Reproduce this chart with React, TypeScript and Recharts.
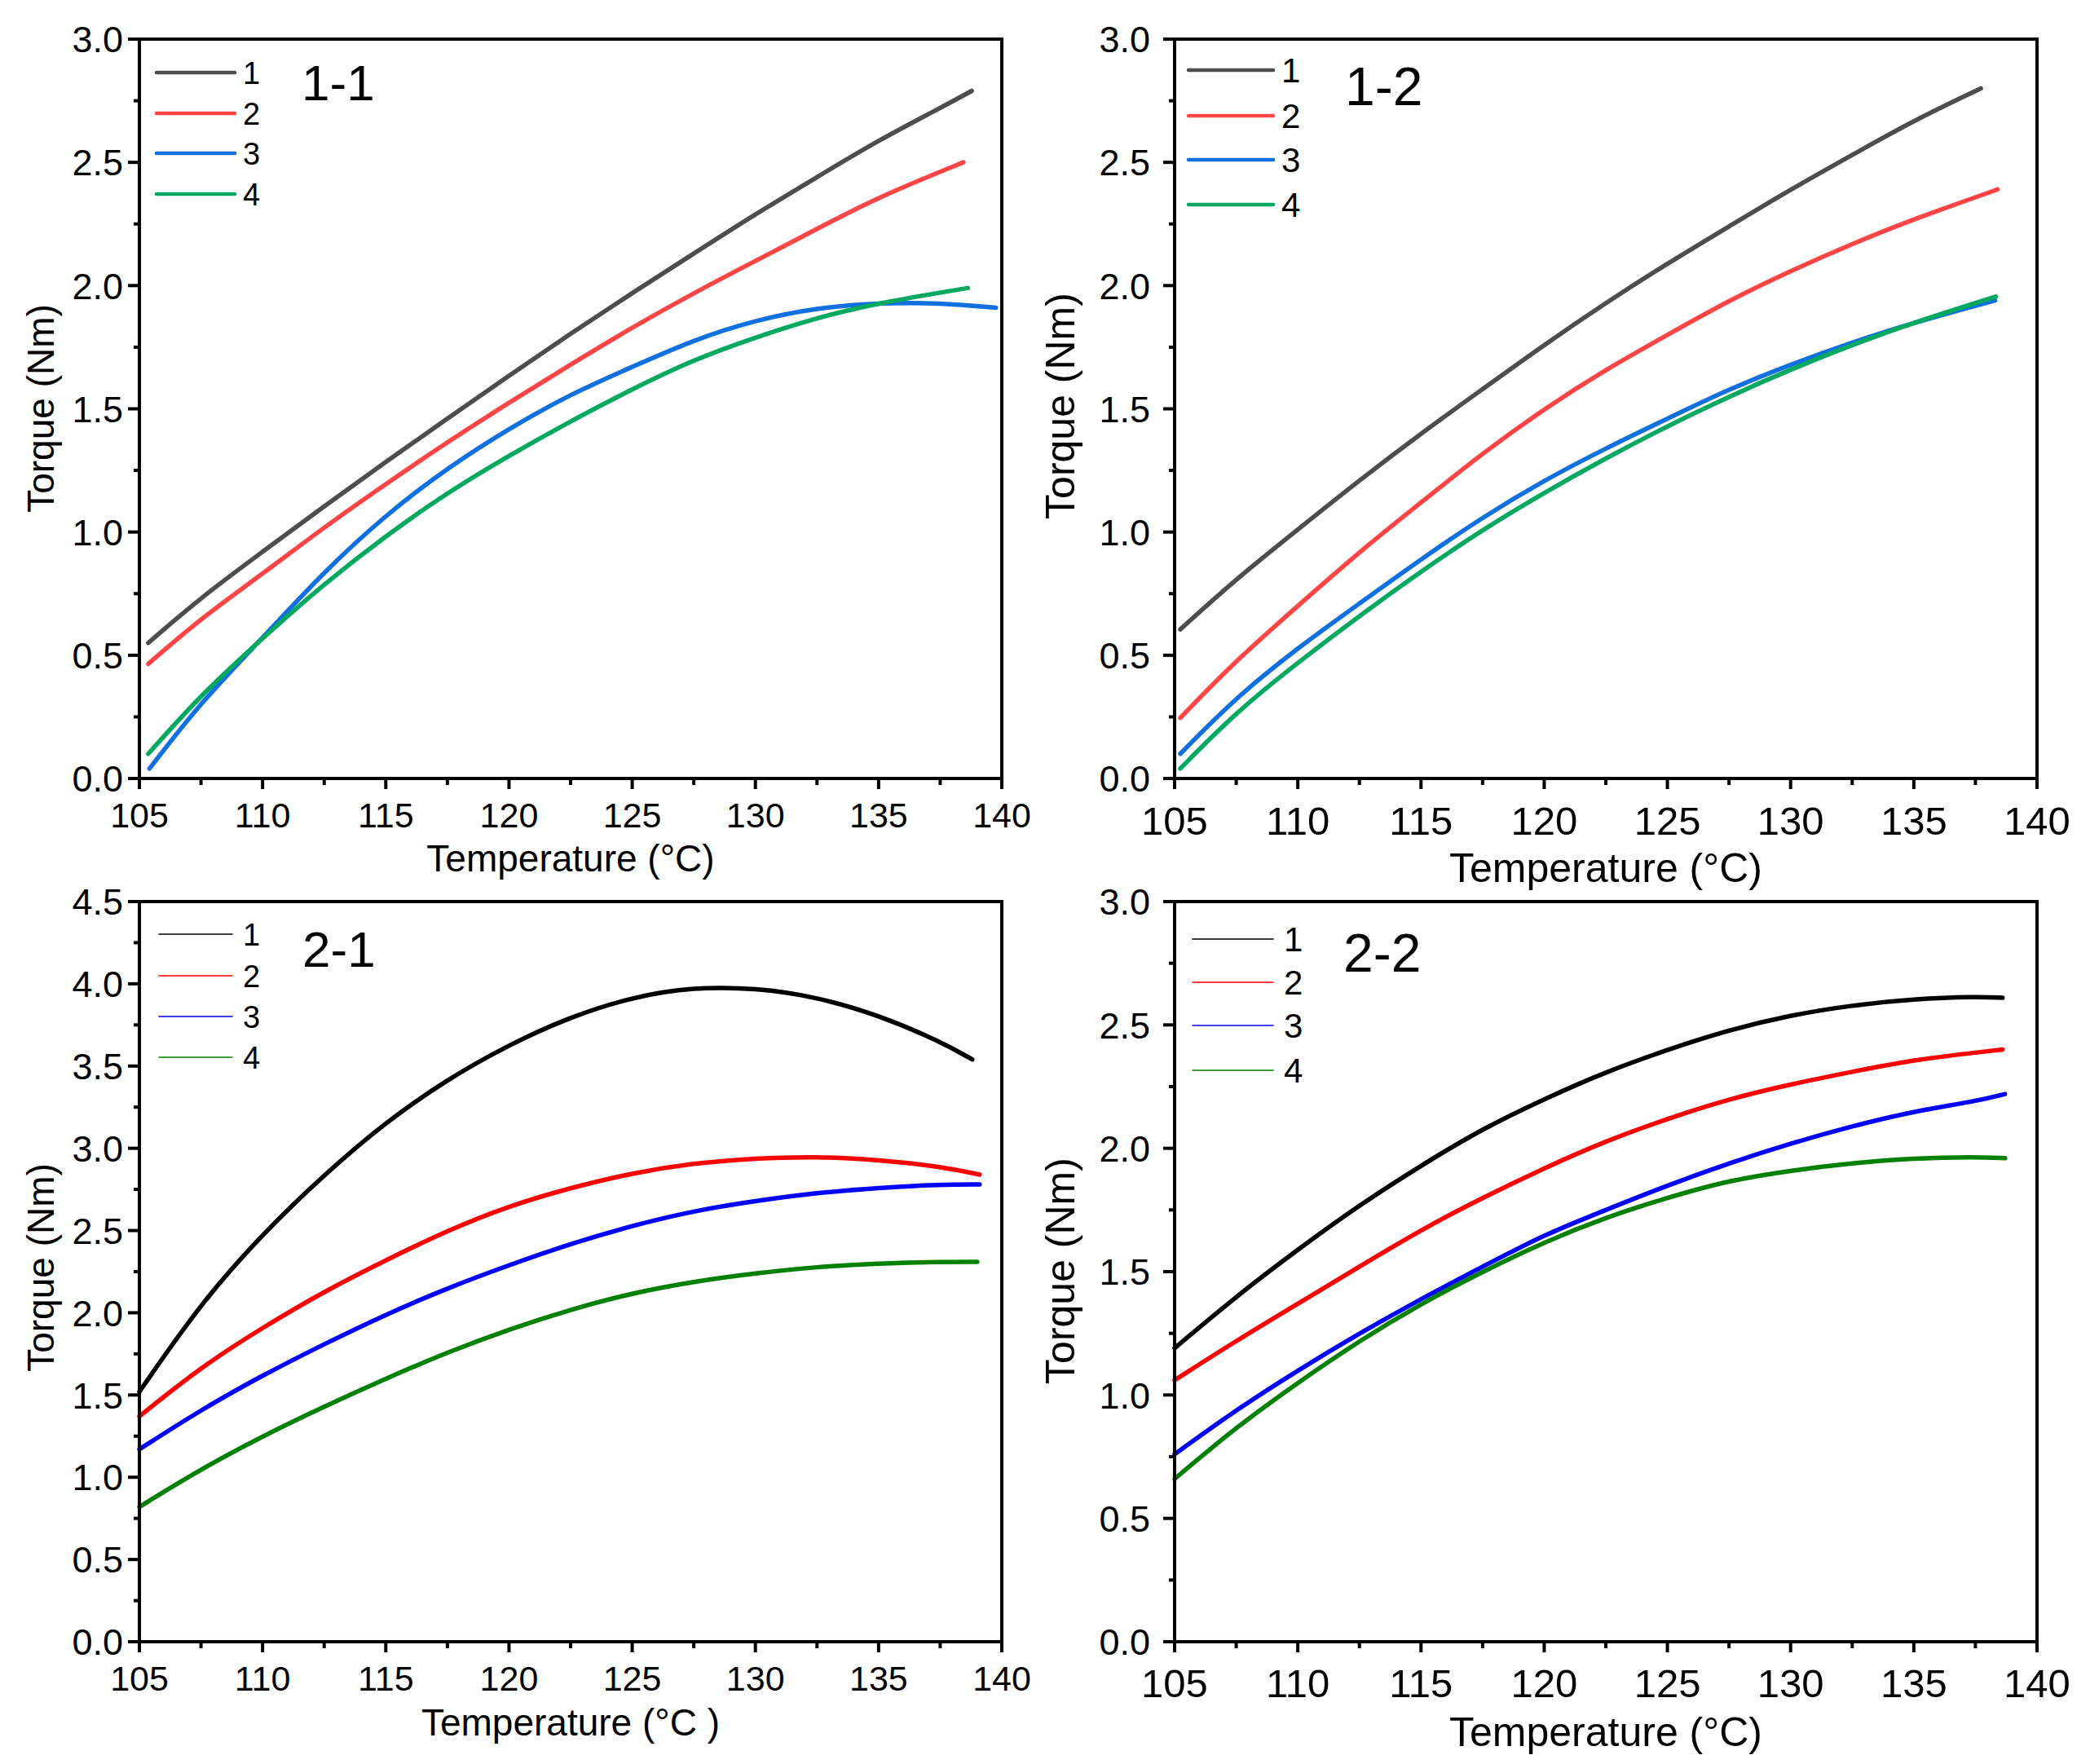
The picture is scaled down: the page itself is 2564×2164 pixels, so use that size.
import React from "react";
import { Legend, Line, LineChart, ReferenceArea, XAxis, YAxis } from "recharts";

const FONT = '"Liberation Sans", Arial, Helvetica, sans-serif';

// shared axis ticks
const xTicks = [105, 107.5, 110, 112.5, 115, 117.5, 120, 122.5, 125, 127.5, 130, 132.5, 135, 137.5, 140];
const yTicks30 = [0, 0.25, 0.5, 0.75, 1, 1.25, 1.5, 1.75, 2, 2.25, 2.5, 2.75, 3];
const yTicks45 = [0, 0.25, 0.5, 0.75, 1, 1.25, 1.5, 1.75, 2, 2.25, 2.5, 2.75, 3, 3.25, 3.5, 3.75, 4, 4.25, 4.5];
const seriesNames = ["1", "2", "3", "4"];

// panel 1-1
const t11a = [105.36, 107.5, 110, 112.5, 115, 117.5, 120, 122.5, 125, 127.5, 130, 132.5, 135, 137.5, 138.78];
const q11a = [0.55, 0.735, 0.92, 1.105, 1.285, 1.46, 1.635, 1.805, 1.97, 2.13, 2.29, 2.44, 2.59, 2.72, 2.79];
const t11b = [105.36, 107.5, 110, 112.5, 115, 117.5, 120, 122.5, 125, 127.5, 130, 132.5, 135, 138.44];
const q11b = [0.465, 0.65, 0.83, 1.02, 1.195, 1.365, 1.525, 1.68, 1.83, 1.97, 2.1, 2.23, 2.36, 2.5];
const t11c = [105.41, 107.5, 110, 112.5, 115, 117.5, 120, 122.5, 125, 127.5, 130, 132.5, 135, 137.5, 139.76];
const q11c = [0.04, 0.31, 0.57, 0.84, 1.07, 1.26, 1.42, 1.56, 1.67, 1.78, 1.86, 1.91, 1.93, 1.93, 1.91];
const t11d = [105.36, 107.5, 110, 112.5, 115, 117.5, 120, 122.5, 125, 127.5, 130, 132.5, 135, 138.62];
const q11d = [0.1, 0.34, 0.57, 0.79, 0.985, 1.16, 1.31, 1.45, 1.58, 1.7, 1.79, 1.87, 1.93, 1.99];

// panel 1-2
const t12a = [105.23, 107.5, 110, 112.5, 115, 117.5, 120, 122.5, 125, 127.5, 130, 132.5, 135, 137.72];
const q12a = [0.605, 0.81, 1.01, 1.21, 1.4, 1.58, 1.76, 1.93, 2.09, 2.24, 2.39, 2.53, 2.67, 2.8];
const t12b = [105.23, 107.5, 110, 112.5, 115, 117.5, 120, 122.5, 125, 127.5, 130, 132.5, 135, 138.4];
const q12b = [0.246, 0.48, 0.7, 0.92, 1.12, 1.32, 1.5, 1.66, 1.8, 1.94, 2.06, 2.17, 2.27, 2.39];
const t12c = [105.23, 107.5, 110, 112.5, 115, 117.5, 120, 122.5, 125, 127.5, 130, 132.5, 135, 138.3];
const q12c = [0.1, 0.33, 0.53, 0.71, 0.89, 1.06, 1.21, 1.34, 1.46, 1.58, 1.68, 1.77, 1.85, 1.94];
const t12d = [105.23, 107.5, 110, 112.5, 115, 117.5, 120, 122.5, 125, 127.5, 130, 132.5, 135, 138.33];
const q12d = [0.04, 0.27, 0.47, 0.66, 0.84, 1.01, 1.16, 1.3, 1.43, 1.55, 1.66, 1.76, 1.85, 1.955];

// panel 2-1
const t21a = [105, 107.5, 110, 112.5, 115, 117.5, 120, 122.5, 125, 127.5, 130, 132.5, 135, 137.5, 138.8];
const q21a = [1.52, 2.06, 2.48, 2.84, 3.16, 3.42, 3.63, 3.8, 3.92, 3.98, 3.975, 3.92, 3.81, 3.65, 3.54];
const t21b = [105, 107.5, 110, 112.5, 115, 117.5, 120, 122.5, 125, 127.5, 130, 132.5, 135, 137.5, 139.1];
const q21b = [1.37, 1.67, 1.91, 2.13, 2.32, 2.5, 2.65, 2.76, 2.85, 2.91, 2.94, 2.95, 2.93, 2.89, 2.84];
const t21c = [105, 107.5, 110, 112.5, 115, 117.5, 120, 122.5, 125, 127.5, 130, 132.5, 135, 137.5, 139.1];
const q21c = [1.17, 1.41, 1.62, 1.81, 1.99, 2.15, 2.29, 2.42, 2.53, 2.62, 2.68, 2.73, 2.76, 2.78, 2.78];
const t21d = [105, 107.5, 110, 112.5, 115, 117.5, 120, 122.5, 125, 127.5, 130, 132.5, 135, 137.5, 139.0];
const q21d = [0.82, 1.05, 1.25, 1.43, 1.6, 1.76, 1.9, 2.02, 2.12, 2.19, 2.24, 2.28, 2.3, 2.31, 2.31];

// panel 2-2
const t22a = [105, 107.5, 110, 112.5, 115, 117.5, 120, 122.5, 125, 127.5, 130, 132.5, 135, 137.5, 138.6];
const q22a = [1.19, 1.4, 1.59, 1.77, 1.93, 2.08, 2.2, 2.31, 2.4, 2.48, 2.54, 2.58, 2.605, 2.615, 2.61];
const t22b = [105, 107.5, 110, 112.5, 115, 117.5, 120, 122.5, 125, 127.5, 130, 132.5, 135, 138.6];
const q22b = [1.06, 1.22, 1.37, 1.52, 1.67, 1.8, 1.92, 2.03, 2.12, 2.2, 2.26, 2.31, 2.36, 2.4];
const t22c = [105, 107.5, 110, 112.5, 115, 117.5, 120, 122.5, 125, 127.5, 130, 132.5, 135, 137.5, 138.7];
const q22c = [0.76, 0.94, 1.1, 1.25, 1.39, 1.52, 1.65, 1.75, 1.85, 1.94, 2.02, 2.09, 2.15, 2.19, 2.22];
const t22d = [105, 107.5, 110, 112.5, 115, 117.5, 120, 122.5, 125, 127.5, 130, 132.5, 135, 137.5, 138.7];
const q22d = [0.66, 0.87, 1.05, 1.22, 1.37, 1.5, 1.62, 1.72, 1.8, 1.87, 1.91, 1.94, 1.96, 1.965, 1.96];

const topColors = ["#4d4d4d", "#ff4545", "#1070e0", "#00a860"];
const bottomColors = ["#000000", "#ff0000", "#0000ff", "#008000"];

const zip = (xs: number[], ys: number[]) => xs.map((x, i) => ({ x, y: ys[i] }));

// all positions below are page pixels; Panel converts them to chart-local
type PanelCfg = {
  tag: string;
  box: { x: number; y: number; w: number; h: number };
  plot: { l: number; t: number; r: number; b: number };
  yMax: number;
  yTicks: number[];
  series: { x: number[]; y: number[] }[];
  colors: string[];
  xTitle: string;
  xTickFont: number;
  xTickDy: number;
  yTickFont: number;
  yTickDx: number;
  titleFont: number;
  xTitleY: number;
  yTitleX: number;
  yTitleY: number;
  legX1: number;
  legX2: number;
  legLabelX: number;
  legRows: number[];
  legFont: number;
  legStroke: number;
  tagX: number;
  tagY: number;
  tagFont: number;
};

const AXIS_W = 100;

function makeXTick(fs: number, dy: number) {
  return (props: any) => {
    const { x, y, payload } = props;
    const v = Number(payload.value);
    const major = Math.abs(v % 5) < 1e-6;
    return (
      <g>
        <line x1={x} y1={y} x2={x} y2={y + (major ? 13 : 8)} stroke="#000" strokeWidth={4} />
        {major ? (
          <text x={x} y={y + dy} textAnchor="middle" fontSize={fs} fontFamily={FONT} fill="#000">
            {v}
          </text>
        ) : null}
      </g>
    );
  };
}

function makeYTick(fs: number, dx: number) {
  return (props: any) => {
    const { x, y, payload } = props;
    const v = Number(payload.value);
    const major = Math.abs(v * 2 - Math.round(v * 2)) < 1e-6;
    return (
      <g>
        <line x1={x} y1={y} x2={x - (major ? 14 : 7)} y2={y} stroke="#000" strokeWidth={4} />
        {major ? (
          <text x={x - dx} y={y} dy="0.36em" textAnchor="end" fontSize={fs} fontFamily={FONT} fill="#000">
            {v.toFixed(1)}
          </text>
        ) : null}
      </g>
    );
  };
}

function Panel({ c }: { c: PanelCfg }) {
  const ox = c.box.x;
  const oy = c.box.y;
  const l = c.plot.l - ox;
  const r = c.plot.r - ox;
  const t = c.plot.t - oy;
  const b = c.plot.b - oy;
  const margin = { left: l - AXIS_W, top: t, right: c.box.w - r, bottom: c.box.h - b - AXIS_W };
  const midX = (l + r) / 2;
  const ytx = c.yTitleX - ox;
  const yty = c.yTitleY - oy;

  const legend = (props: any) => {
    const payload = props.payload ?? [];
    return (
      <svg width={c.box.w} height={c.box.h} style={{ display: "block", overflow: "visible" }}>
        {payload.map((e: any, i: number) => (
          <g key={i}>
            <line
              x1={c.legX1 - ox}
              x2={c.legX2 - ox}
              y1={c.legRows[i] - oy}
              y2={c.legRows[i] - oy}
              stroke={e.color}
              strokeWidth={c.legStroke}
              strokeLinecap="round"
            />
            <text
              x={c.legLabelX - ox}
              y={c.legRows[i] - oy}
              dy="0.36em"
              fontSize={c.legFont}
              fontFamily={FONT}
              fill="#000"
            >
              {e.value}
            </text>
          </g>
        ))}
        <text x={c.tagX - ox} y={c.tagY - oy} fontSize={c.tagFont} fontFamily={FONT} fill="#000">
          {c.tag}
        </text>
      </svg>
    );
  };

  return (
    <div style={{ position: "absolute", left: ox, top: oy, width: c.box.w, height: c.box.h }}>
      <LineChart width={c.box.w} height={c.box.h} margin={margin}>
        <XAxis
          dataKey="x"
          type="number"
          domain={[105, 140]}
          ticks={xTicks}
          interval={0}
          height={AXIS_W}
          tickSize={0}
          tickMargin={0}
          tickLine={false}
          axisLine={{ stroke: "#000", strokeWidth: 4 }}
          tick={makeXTick(c.xTickFont, c.xTickDy)}
          label={() => (
            <text x={midX} y={c.xTitleY - oy} textAnchor="middle" fontSize={c.titleFont} fontFamily={FONT} fill="#000">
              {c.xTitle}
            </text>
          )}
        />
        <YAxis
          type="number"
          domain={[0, c.yMax]}
          ticks={c.yTicks}
          interval={0}
          width={AXIS_W}
          tickSize={0}
          tickMargin={0}
          tickLine={false}
          axisLine={{ stroke: "#000", strokeWidth: 4 }}
          tick={makeYTick(c.yTickFont, c.yTickDx)}
          label={() => (
            <text
              x={ytx}
              y={yty}
              transform={`rotate(-90 ${ytx} ${yty})`}
              textAnchor="middle"
              fontSize={c.titleFont}
              fontFamily={FONT}
              fill="#000"
            >
              Torque (Nm)
            </text>
          )}
        />
        <ReferenceArea x1={105} x2={140} y1={0} y2={c.yMax} fill="none" stroke="#000" strokeWidth={4} />
        {c.series.map((s, i) => (
          <Line
            key={i}
            name={seriesNames[i]}
            data={zip(s.x, s.y)}
            dataKey="y"
            type="basis"
            stroke={c.colors[i]}
            strokeWidth={5.5}
            strokeLinecap="round"
            dot={false}
            activeDot={false}
            isAnimationActive={false}
          />
        ))}
        <Legend
          layout="vertical"
          align="center"
          verticalAlign="middle"
          content={legend}
          wrapperStyle={{ left: 0, top: 0, width: c.box.w, height: c.box.h, pointerEvents: "none" }}
        />
      </LineChart>
    </div>
  );
}

const panels: PanelCfg[] = [
  {
    tag: "1-1",
    box: { x: 0, y: 0, w: 1282, h: 1100 },
    plot: { l: 171, t: 48, r: 1229, b: 955 },
    yMax: 3,
    yTicks: yTicks30,
    series: [
      { x: t11a, y: q11a },
      { x: t11b, y: q11b },
      { x: t11c, y: q11c },
      { x: t11d, y: q11d },
    ],
    colors: topColors,
    xTitle: "Temperature (°C)",
    xTickFont: 43,
    xTickDy: 60,
    yTickFont: 45,
    yTickDx: 20,
    titleFont: 46,
    xTitleY: 1069,
    yTitleX: 66,
    yTitleY: 501,
    legX1: 192,
    legX2: 288,
    legLabelX: 298,
    legRows: [89, 139, 188, 238],
    legFont: 38,
    legStroke: 4.5,
    tagX: 370,
    tagY: 123,
    tagFont: 62,
  },
  {
    tag: "1-2",
    box: { x: 1240, y: 0, w: 1324, h: 1100 },
    plot: { l: 1441, t: 48, r: 2499, b: 955 },
    yMax: 3,
    yTicks: yTicks30,
    series: [
      { x: t12a, y: q12a },
      { x: t12b, y: q12b },
      { x: t12c, y: q12c },
      { x: t12d, y: q12d },
    ],
    colors: topColors,
    xTitle: "Temperature (°C)",
    xTickFont: 49,
    xTickDy: 69,
    yTickFont: 45,
    yTickDx: 30,
    titleFont: 50,
    xTitleY: 1082,
    yTitleX: 1318,
    yTitleY: 498,
    legX1: 1458,
    legX2: 1562,
    legLabelX: 1572,
    legRows: [86, 142, 196, 251],
    legFont: 42,
    legStroke: 4.5,
    tagX: 1650,
    tagY: 129,
    tagFont: 66,
  },
  {
    tag: "2-1",
    box: { x: 0, y: 1060, w: 1282, h: 1104 },
    plot: { l: 171, t: 1106, r: 1229, b: 2014 },
    yMax: 4.5,
    yTicks: yTicks45,
    series: [
      { x: t21a, y: q21a },
      { x: t21b, y: q21b },
      { x: t21c, y: q21c },
      { x: t21d, y: q21d },
    ],
    colors: bottomColors,
    xTitle: "Temperature (°C )",
    xTickFont: 43,
    xTickDy: 60,
    yTickFont: 45,
    yTickDx: 20,
    titleFont: 46,
    xTitleY: 2129,
    yTitleX: 66,
    yTitleY: 1555,
    legX1: 195,
    legX2: 285,
    legLabelX: 298,
    legRows: [1146, 1197, 1247, 1297],
    legFont: 38,
    legStroke: 1.6,
    tagX: 371,
    tagY: 1186,
    tagFont: 62,
  },
  {
    tag: "2-2",
    box: { x: 1240, y: 1060, w: 1324, h: 1104 },
    plot: { l: 1441, t: 1106, r: 2499, b: 2014 },
    yMax: 3,
    yTicks: yTicks30,
    series: [
      { x: t22a, y: q22a },
      { x: t22b, y: q22b },
      { x: t22c, y: q22c },
      { x: t22d, y: q22d },
    ],
    colors: bottomColors,
    xTitle: "Temperature (°C)",
    xTickFont: 49,
    xTickDy: 68,
    yTickFont: 45,
    yTickDx: 30,
    titleFont: 50,
    xTitleY: 2142,
    yTitleX: 1318,
    yTitleY: 1559,
    legX1: 1463,
    legX2: 1562,
    legLabelX: 1575,
    legRows: [1152, 1205, 1258, 1313],
    legFont: 42,
    legStroke: 1.6,
    tagX: 1648,
    tagY: 1192,
    tagFont: 66,
  },
];

export default function App() {
  return (
    <div
      style={{
        position: "absolute",
        left: 0,
        top: 0,
        width: 2564,
        height: 2164,
        background: "#fff",
        fontFamily: FONT,
      }}
    >
      {panels.map((p) => (
        <Panel key={p.tag} c={p} />
      ))}
    </div>
  );
}
